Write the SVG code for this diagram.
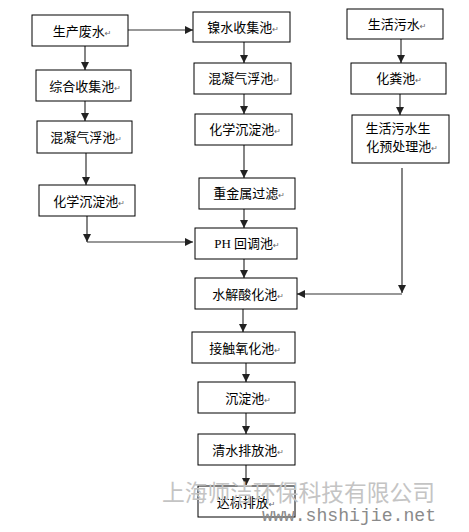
<svg xmlns="http://www.w3.org/2000/svg" width="469" height="532" viewBox="0 0 469 532">
<style>
rect.b{fill:#fff;stroke:#000;stroke-width:1}
text.t{font-family:"Noto Sans CJK SC","Noto Sans CJK JP",sans-serif;font-size:13px;fill:#000;text-anchor:middle}
tspan.r{font-family:"DejaVu Sans",sans-serif;font-size:8px;fill:#666}
.c line,.c polyline{stroke:#333;stroke-width:1.2;fill:none}
</style>
<defs>
<marker id="a" markerUnits="userSpaceOnUse" markerWidth="8" markerHeight="8" refX="8" refY="4" orient="auto">
<path d="M0,0 L8,4 L0,8 z" fill="#222"/>
</marker>
</defs>
<rect width="469" height="532" fill="#fff"/>
<g class="c">
<line x1="85" y1="46" x2="85" y2="70" marker-end="url(#a)"/>
<line x1="85" y1="101" x2="85" y2="121" marker-end="url(#a)"/>
<line x1="86" y1="153" x2="86" y2="185" marker-end="url(#a)"/>
<line x1="87" y1="216" x2="87" y2="242" marker-end="url(#a)"/>
<line x1="87" y1="242" x2="193" y2="242" marker-end="url(#a)"/>
<line x1="128" y1="30" x2="193" y2="30" marker-end="url(#a)"/>
<line x1="244" y1="42" x2="244" y2="63" marker-end="url(#a)"/>
<line x1="244" y1="94" x2="244" y2="114" marker-end="url(#a)"/>
<line x1="244" y1="145" x2="244" y2="178" marker-end="url(#a)"/>
<line x1="244" y1="209" x2="244" y2="228" marker-end="url(#a)"/>
<line x1="244" y1="259" x2="244" y2="278" marker-end="url(#a)"/>
<line x1="243" y1="309" x2="243" y2="332" marker-end="url(#a)"/>
<line x1="246" y1="363" x2="246" y2="382" marker-end="url(#a)"/>
<line x1="246" y1="413" x2="246" y2="434" marker-end="url(#a)"/>
<line x1="246" y1="465" x2="246" y2="486" marker-end="url(#a)"/>
<line x1="401" y1="39" x2="401" y2="63" marker-end="url(#a)"/>
<line x1="400" y1="94" x2="400" y2="115" marker-end="url(#a)"/>
<line x1="402" y1="168" x2="402" y2="293" marker-end="url(#a)"/>
<line x1="402" y1="294" x2="297" y2="294" marker-end="url(#a)"/>
</g>
<g id="n1"><rect class="b" x="32" y="15" width="96" height="31"/><text class="t" x="82" y="36">生产废水<tspan class="r">↵</tspan></text></g>
<g id="n2"><rect class="b" x="36" y="70" width="95" height="31"/><text class="t" x="85" y="91">综合收集池<tspan class="r">↵</tspan></text></g>
<g id="n3"><rect class="b" x="37" y="121" width="95" height="32"/><text class="t" x="86" y="142">混凝气浮池<tspan class="r">↵</tspan></text></g>
<g id="n4"><rect class="b" x="39" y="185" width="96" height="31"/><text class="t" x="89" y="206">化学沉淀池<tspan class="r">↵</tspan></text></g>
<g id="n5"><rect class="b" x="193" y="12" width="97" height="30"/><text class="t" x="243" y="32">镍水收集池<tspan class="r">↵</tspan></text></g>
<g id="n6"><rect class="b" x="194" y="63" width="97" height="31"/><text class="t" x="244" y="83">混凝气浮池<tspan class="r">↵</tspan></text></g>
<g id="n7"><rect class="b" x="195" y="114" width="97" height="31"/><text class="t" x="245" y="134">化学沉淀池<tspan class="r">↵</tspan></text></g>
<g id="n8"><rect class="b" x="199" y="178" width="96" height="31"/><text class="t" x="249" y="198">重金属过滤<tspan class="r">↵</tspan></text></g>
<g id="n9"><rect class="b" x="195" y="228" width="102" height="31"/><text class="t" x="247" y="248"><tspan font-family="Liberation Serif, serif">PH </tspan>回调池<tspan class="r">↵</tspan></text></g>
<g id="n10"><rect class="b" x="195" y="278" width="102" height="31"/><text class="t" x="248" y="299">水解酸化池<tspan class="r">↵</tspan></text></g>
<g id="n11"><rect class="b" x="192" y="332" width="103" height="31"/><text class="t" x="245" y="353">接触氧化池<tspan class="r">↵</tspan></text></g>
<g id="n12"><rect class="b" x="198" y="382" width="97" height="31"/><text class="t" x="248" y="403">沉淀池<tspan class="r">↵</tspan></text></g>
<g id="n13"><rect class="b" x="198" y="434" width="97" height="31"/><text class="t" x="248" y="455">清水排放池<tspan class="r">↵</tspan></text></g>
<g id="n14"><rect class="b" x="198" y="486" width="97" height="31"/><text class="t" x="246" y="507">达标排放<tspan class="r">↵</tspan></text></g>
<g id="n15"><rect class="b" x="347" y="9" width="96" height="30"/><text class="t" x="397" y="29">生活污水<tspan class="r">↵</tspan></text></g>
<g id="n16"><rect class="b" x="351" y="63" width="95" height="31"/><text class="t" x="399" y="83">化粪池<tspan class="r">↵</tspan></text></g>
<g id="n17"><rect class="b" x="352" y="115" width="97" height="48"/><text class="t" x="398" y="133">生活污水生</text><text class="t" x="402" y="151">化预处理池<tspan class="r">↵</tspan></text></g>
<g id="watermark">
<text x="162" y="501" font-family="Noto Sans CJK SC, sans-serif" font-size="22.5" fill="#c4c4c4" textLength="273" lengthAdjust="spacingAndGlyphs">上海师洁环保科技有限公司</text>
<text x="262" y="521" font-family="Liberation Mono, monospace" font-size="18" fill="#8a8a8a" textLength="174" lengthAdjust="spacingAndGlyphs">www.shshijie.net</text>
</g>
</svg>
